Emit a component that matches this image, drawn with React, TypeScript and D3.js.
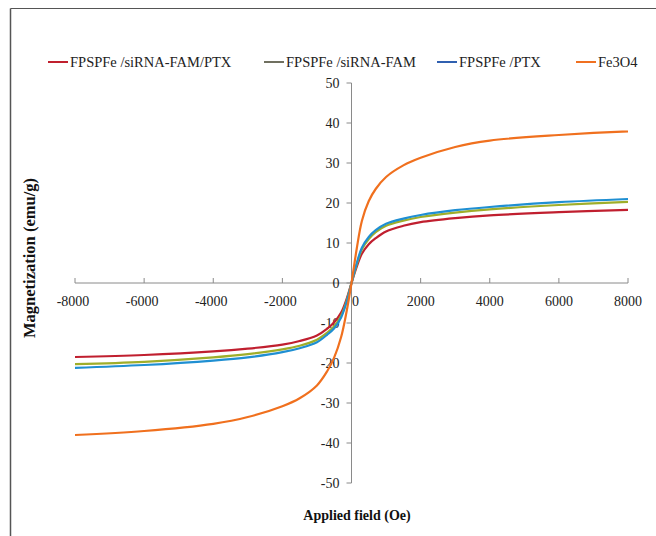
import React from "react";
import * as d3 from "d3";

const fields = [-8000, -6000, -4000, -3000, -2000, -1500, -1000, -700, -500, -300, -150, 0, 150, 300, 500, 700, 1000, 1500, 2000, 3000, 4000, 6000, 8000];
const redVals = [-18.5, -18.0, -17.1, -16.4, -15.4, -14.5, -13.1, -11.4, -9.8, -7.4, -4.2, 0, 4.0, 7.3, 9.7, 11.2, 12.9, 14.3, 15.2, 16.2, 16.9, 17.7, 18.3];
const greenVals = [-20.3, -19.7, -18.6, -17.8, -16.6, -15.7, -14.2, -12.4, -10.8, -8.2, -4.7, 0, 4.6, 8.4, 11.0, 12.7, 14.3, 15.6, 16.5, 17.6, 18.4, 19.5, 20.3];
const blueVals = [-21.2, -20.5, -19.4, -18.6, -17.3, -16.3, -14.8, -12.9, -11.3, -8.6, -5.0, 0, 4.9, 8.8, 11.5, 13.2, 14.8, 16.1, 17.0, 18.2, 19.0, 20.2, 21.0];
const orangeVals = [-38.0, -37.0, -35.2, -33.5, -30.8, -28.8, -25.6, -22.0, -18.6, -13.5, -7.5, 0, 8.5, 15.5, 20.5, 23.5, 26.5, 29.4, 31.3, 34.0, 35.6, 37.0, 37.9];

const seriesNames = ["FPSPFe /siRNA-FAM/PTX", "FPSPFe /siRNA-FAM", "FPSPFe /PTX", "Fe3O4"];
const seriesValues = [redVals, greenVals, blueVals, orangeVals];
const lineColors = ["#C01F2F", "#9FAE2A", "#1F8FD2", "#F0701E"];
const legendColors = ["#C0202E", "#707060", "#3060B0", "#F07020"];

const xTicks = [-8000, -6000, -4000, -2000, 0, 2000, 4000, 6000, 8000];
const yTicks = [-50, -40, -30, -20, -10, 0, 10, 20, 30, 40, 50];

const legendX = [48, 264, 437, 576];

export default function App() {
  const W = 656, H = 536;
  const x = d3.scaleLinear().domain([-8000, 8000]).range([75, 628]);
  const y = d3.scaleLinear().domain([-50, 50]).range([483, 83]);
  const x0 = x(0);
  const y0 = y(0);
  const serif = "'Liberation Serif', 'Times New Roman', serif";
  const line = d3
    .line<[number, number]>()
    .x((d) => x(d[0]))
    .y((d) => y(d[1]))
    .curve(d3.curveCatmullRom.alpha(0.5));

  return (
    <svg width={W} height={H} style={{ position: "absolute", left: 0, top: 0, background: "#fff" }} fontFamily={serif}>
      <rect x={0} y={0} width={W} height={H} fill="#fff" />
      {/* frame */}
      <line x1={10.5} y1={8.5} x2={656} y2={8.5} stroke="#555" strokeWidth={1} />
      <line x1={10.5} y1={8.5} x2={10.5} y2={536} stroke="#555" strokeWidth={1.5} />

      {/* axes */}
      <line x1={x(-8000)} y1={y0} x2={x(8000)} y2={y0} stroke="#8a8a8a" strokeWidth={1} />
      <line x1={x0} y1={y(50)} x2={x0} y2={y(-50)} stroke="#8a8a8a" strokeWidth={1} />
      {xTicks.map((t) => (
        <g key={"xt" + t}>
          <line x1={x(t)} y1={y0 - 5} x2={x(t)} y2={y0} stroke="#8a8a8a" />
          <text x={x(t) + (t < 0 ? -2 : 0) + (t === 0 ? 4 : 0)} y={y0 + 23} textAnchor="middle" fontSize={14} fill="#222">
            {t}
          </text>
        </g>
      ))}
      {yTicks.map((t) => (
        <g key={"yt" + t}>
          <line x1={x0 - 5} y1={y(t)} x2={x0} y2={y(t)} stroke="#8a8a8a" />
          <text x={x0 - 12} y={y(t) + 5} textAnchor="end" fontSize={14} fill="#222">
            {t}
          </text>
        </g>
      ))}

      {/* series */}
      {seriesValues.map((vals, i) => (
        <path
          key={"s" + i}
          d={line(fields.map((f, j) => [f, vals[j]] as [number, number])) || ""}
          fill="none"
          stroke={lineColors[i]}
          strokeWidth={2.2}
          strokeLinejoin="round"
        />
      ))}

      {/* legend */}
      {seriesNames.map((n, i) => (
        <g key={"lg" + i}>
          <line x1={legendX[i]} y1={62} x2={legendX[i] + 20} y2={62} stroke={legendColors[i]} strokeWidth={2} />
          <text x={legendX[i] + 22} y={67} fontSize={14.5} fill="#222">
            {n}
          </text>
        </g>
      ))}

      {/* axis titles */}
      <text x={357} y={520} textAnchor="middle" fontSize={14} fontWeight="bold" fill="#111">
        Applied field (Oe)
      </text>
      <text
        transform={`translate(35, 258) rotate(-90)`}
        textAnchor="middle"
        fontSize={16.5}
        fontWeight="bold"
        fill="#111"
      >
        Magnetization (emu/g)
      </text>
    </svg>
  );
}
